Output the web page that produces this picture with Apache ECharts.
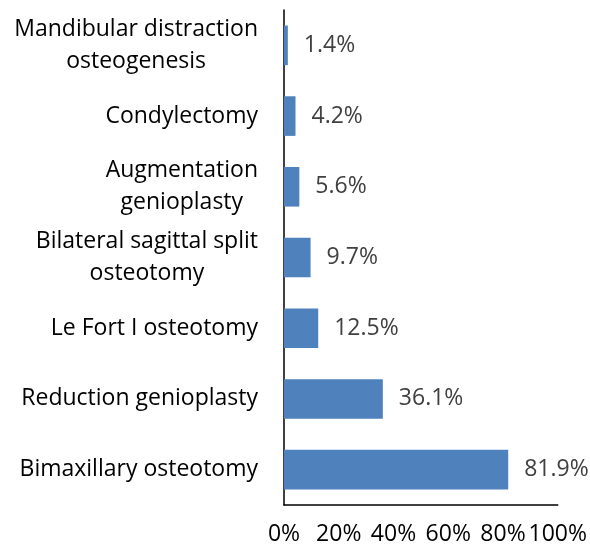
<!DOCTYPE html>
<html>
<head>
<meta charset="utf-8">
<script src="https://cdn.jsdelivr.net/npm/echarts@6/dist/echarts.min.js"></script>
<style>
html,body{margin:0;padding:0;background:#fff;}
#chart{width:590px;height:547px;}
</style>
</head>
<body>
<div id="chart"></div>
<script>
// Categories listed bottom to top
const categories = [
  "Bimaxillary osteotomy",
  "Reduction genioplasty",
  "Le Fort I osteotomy",
  "Bilateral sagittal split\nosteotomy",
  "Augmentation\ngenioplasty",
  "Condylectomy",
  "Mandibular distraction\nosteogenesis"
];
const percentages = [81.9, 36.1, 12.5, 9.7, 5.6, 4.2, 1.4];
const xTicks = [0, 20, 40, 60, 80, 100];

const FONT = '"Open Sans"';
const FS = 23;
const chart = echarts.init(document.getElementById('chart'));
chart.setOption({
  animation: false,
  backgroundColor: '#ffffff',
  grid: { left: 284, right: 31, top: 10, bottom: 42, containLabel: false },
  xAxis: {
    type: 'value',
    min: xTicks[0],
    max: xTicks[xTicks.length - 1],
    interval: xTicks[1] - xTicks[0],
    axisLine: { show: true, lineStyle: { color: '#000000', width: 1.5 } },
    axisTick: { show: false },
    splitLine: { show: false },
    axisLabel: {
      formatter: '{value}%',
      color: '#000000',
      fontFamily: FONT,
      fontSize: FS,
      margin: 18
    }
  },
  yAxis: {
    type: 'category',
    data: categories,
    axisLine: { show: true, lineStyle: { color: '#000000', width: 1.5 } },
    axisTick: { show: false },
    axisLabel: {
      color: '#000000',
      fontFamily: FONT,
      fontSize: FS,
      margin: 26,
      lineHeight: 32,
      formatter: function (v) {
        return v.split('\n').map(function (s) { return '{c|' + s + '}'; }).join('\n');
      },
      rich: {
        c: { align: 'center', color: '#000000', fontFamily: FONT, fontSize: FS, lineHeight: 32 }
      }
    }
  },
  series: [{
    type: 'bar',
    data: percentages,
    barWidth: '56%',
    itemStyle: { color: '#4F81BD' },
    label: {
      show: true,
      position: 'right',
      distance: 16,
      color: '#404040',
      fontFamily: FONT,
      fontSize: FS,
      formatter: function (p) { return p.value.toFixed(1) + '%'; }
    }
  }]
});
</script>
</body>
</html>
